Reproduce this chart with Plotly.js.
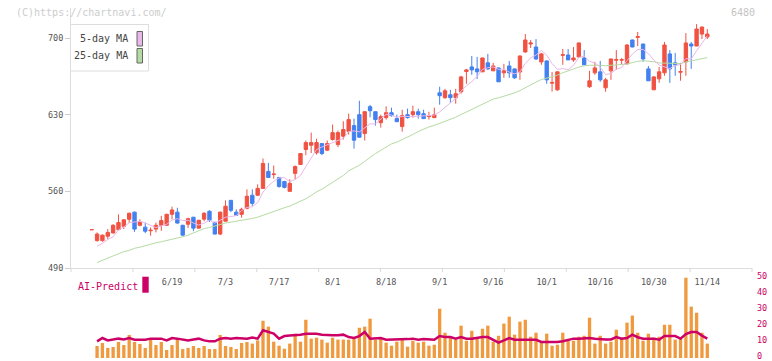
<!DOCTYPE html>
<html><head><meta charset="utf-8">
<script src="https://cdn.plot.ly/plotly-3.0.1.min.js"></script>
<style>html,body{margin:0;padding:0;background:#fff}#chart{width:772px;height:361px}</style>
</head><body><div id="chart"></div>
<script>
// ---- data ----
const openP  = [525,515,515,519,522,525,528,534.5,541,529,527.3,524,525.5,529,529,539,541,529,530,536.4,526.4,534.6,541.8,531.8,521,532.7,551.8,541,539,544.5,556.4,556.4,562.7,578.2,575.3,572.7,569,560,576.4,584.5,598.2,602.1,595.2,603.6,597.6,607.3,602.7,610.3,614.8,620,630,612.7,637.3,632.7,622.7,627.3,631.8,626.4,619.1,630,630,632.7,630.9,628.2,627.3,650,645.5,648.2,645.5,650.9,669.4,673.6,671.8,669.1,677.3,670,672.7,668.2,674.5,671.8,669,687.3,694.5,691.8,678.2,679.1,658.8,652.7,684.2,684.5,680,682.7,681.8,655.5,668.2,669.1,654.5,670,679.7,679.8,676.4,698.2,700.6,694.5,671.8,652.7,662.7,668.2,685.5,677.3,668.8,678.2,694.5,692.7,703.6,700.9];
const highP  = [525,522.5,520.5,525.5,530,539,534.5,540.5,541.5,534.5,531.5,527,531.5,537.6,539.5,546,545,529.5,536,536.5,534,541,542.7,532,541.5,551.8,552,543.6,545,561.8,561.8,566.4,590,586,583.6,573,569.5,571,583.6,595,606.4,613.6,608,604,606.4,621,615.5,624,631,626.4,642.7,633,639,633,630,637.6,636.4,630,634.5,635.5,638.2,635.5,634.5,632.7,636.4,655.5,653.6,652.7,653.6,665.5,671.8,683.6,682.7,682,685.5,677.3,673,676.4,679.1,672,684,703.6,698.2,699,686.4,679.5,669,669.5,690,690,691.8,695.8,689,670,678.2,679.1,663.6,681,689,681.8,694.5,698.5,705.5,694.8,674.5,665,673.6,696.4,689,686.4,677.3,704.5,696.4,712.7,710.5,708.2];
const lowP   = [525,514,514,516.5,521.5,524.5,525.5,531,523,528,521.8,519.5,522.5,524,528.5,534.5,530.5,519.5,526.5,523.6,526,532.7,532,520.5,520,532.5,541,538,536,543.6,546.7,556,562.5,572.5,571.5,563.3,562.7,560,571,584,593,595,593.6,593,596.7,606.4,600.3,607.3,611.8,599,609,606.4,627.6,620,618.2,625.5,628.2,623.5,614.5,626.4,627.3,626.4,626.4,625.5,627,639.1,644.5,641,640,649.1,658.2,666.4,662.7,669,670.9,670,660,663.6,663.6,662.7,661.8,686.4,690.9,680,675.5,658.2,651,651.8,675.5,680,678.2,682.5,675,654.5,666.4,660,650.9,661.8,671,675.5,676,691.5,692.7,678.2,660.9,652.5,659.1,665.5,659,665.5,661,665.5,671.8,692.5,699.1,699.1];
const closeP = [525,521,520,522.5,529,531.5,534,540,525.5,532,523.6,524.5,529,533.3,539,543,531,520,535,526.4,533.6,540,533.6,521,541,546.4,542.7,538.2,543.6,555.5,549,562.7,585.5,572.7,575.8,564.5,563.6,567.3,582.7,594.5,604.5,604.5,604.5,594.5,603.6,613.6,613.6,616.4,625.5,606.7,609.4,632.7,633.6,625.5,628.2,631.8,629.1,623.6,629.1,627.3,632.7,630,626.4,629.1,630,647.3,651.8,645.5,649.1,664.5,670.9,670.9,669.1,681.8,671.8,674.5,660,670,668.2,663.6,683.6,698.2,695.5,680.9,685.5,661.8,659.4,669.1,684.8,680,681.8,695.5,675.5,660.9,672.7,661.8,661.8,680.9,680.3,680.3,693.6,691.8,701.2,680.9,660.9,664.5,669.1,693.6,671.8,675.5,669.3,695.5,692.7,708.2,710,703.6];
const volume = [0,7.5,9.4,6.3,6.9,10,8.1,14.4,10,8.8,6.3,11.3,8.1,10,5,8.1,12.5,5.6,6.3,7.5,6.3,7.5,5.6,5.6,14.4,7.5,6.9,5.6,9.4,10,9,11,23.3,19.6,10.2,7.7,5.8,9,15.2,10.2,23.9,12.1,12.7,11.5,9.6,12.7,11.5,11.5,11.5,12.1,18.9,19.6,24.6,11.5,12.1,9.6,7.7,10.2,11.5,7.1,10.8,9.6,10.2,7.7,8.3,30.8,15.8,13.3,11.5,20.2,10.8,17,12.1,18.3,20.2,10.2,13.9,21.5,25.8,14.6,22.7,23.9,13.3,15.8,9.6,15.2,7.7,8.3,15.8,10.8,10.8,13.3,13.9,25.2,9,13.9,9,10.2,17.7,12.7,22.1,26.5,15.8,10.8,15.2,12.7,13.3,20.8,20.8,11.5,12.7,50.2,32.1,28.3,15.8,9];
const aiPredict = [null,10.4,12.5,11,11.4,12.1,11.6,12.5,11.4,11.4,11.4,12.1,12.1,12.1,11,12.5,12.1,11.6,11,11.6,12.1,11,10.4,10.4,12.1,12.5,12.1,12.5,12.3,12.1,12.8,12.1,17.3,16.2,15.2,12.1,13.7,14,14.2,14.6,15.2,15.2,15.2,14.6,14.2,14.2,14.2,14.6,13.1,12.5,13.7,16.2,12.1,12.5,12.5,11.4,11.4,11.4,11.4,11.8,12.1,11.4,11.8,11.4,11.4,13.7,13.1,13.1,12.1,13.1,12.1,12.1,12.7,13.1,13.1,11.4,9.6,11,12.5,11.4,11.4,11.4,11.4,11.4,10,10,10,10,10.5,11.5,12.1,12.1,12.1,12.5,12,11.6,11.6,11.6,13.1,12,12.5,14.6,13,12.1,12.1,12.1,11.4,13.7,13.7,13.7,12.1,15,16.2,16.2,14,12.1];
// moving averages before enough visible closes exist
const ma5Lead  = [null,510,512.5,516,518.5];
const ma25Lead = [null,495,497,499,501,503,505,506,508,509,510.5,512,513,514,515,516,517,518.5,520,522,524,526,527,528.5,529.5];
const tickIdx    = [15,25,35,45,55,65,75,85,95,105,115];
const tickLabels = ['6/19','7/3','7/17','8/1','8/18','9/1','9/16','10/1','10/16','10/30','11/14'];
const priceTicks = [490,560,630,700];
const volTicks   = [0,10,20,30,40,50];

// ---- derived ----
const xi = closeP.map((_, i) => i);
function movAvg(n, lead) {
  return closeP.map((_, i) => {
    if (i < lead.length) return lead[i];
    let s = 0; for (let k = i - n + 1; k <= i; k++) s += closeP[k];
    return s / n;
  });
}
const ma5 = movAvg(5, ma5Lead);
const ma25 = movAvg(25, ma25Lead);

// ---- geometry helpers (pixel -> paper) ----
const L = 71, R = 752, T = 8, B = 358;
const px = x => (x - L) / (R - L);
const py = y => 1 - (y - T) / (B - T);
const mono = 'DejaVu Sans Mono, Liberation Mono, monospace';

const traces = [
  {type:'scatter', mode:'lines', x:xi, y:ma25, line:{color:'#b5dba3', width:1}, hoverinfo:'skip', xaxis:'x', yaxis:'y'},
  {type:'scatter', mode:'lines', x:xi, y:ma5, line:{color:'#e9b8ea', width:1}, hoverinfo:'skip', xaxis:'x', yaxis:'y'},
  {type:'candlestick', x:xi, open:openP, high:highP, low:lowP, close:closeP, xaxis:'x', yaxis:'y',
   increasing:{line:{color:'#f05242', width:1}, fillcolor:'#f05242'},
   decreasing:{line:{color:'#4281f0', width:1}, fillcolor:'#4281f0'}, whiskerwidth:0},
  {type:'bar', x:xi, y:volume, marker:{color:'#f09a40'}, width:0.62, xaxis:'x2', yaxis:'y2', hoverinfo:'skip'},
  {type:'scatter', mode:'lines', x:xi, y:aiPredict, line:{color:'#cc0066', width:2.5}, xaxis:'x2', yaxis:'y2', hoverinfo:'skip'}
];

const xr = [-3.87, 123.35];
const shapes = [];
for (let k = 0; k <= 11; k++) {
  shapes.push({type:'line', xref:'paper', yref:'paper', x0:k/11, x1:k/11, y0:py(268), y1:py(272), line:{color:'#d8d8d8', width:1}});
}
// legend box
shapes.push({type:'rect', xref:'paper', yref:'paper', x0:px(70.5), x1:px(148.5), y0:py(24.5), y1:py(71), line:{color:'#dddddd', width:1}, fillcolor:'#ffffff', layer:'above'});
shapes.push({type:'rect', xref:'paper', yref:'paper', x0:px(137), x1:px(142.5), y0:py(31.5), y1:py(46), line:{color:'#666666', width:1}, fillcolor:'#e9b8ea', layer:'above'});
shapes.push({type:'rect', xref:'paper', yref:'paper', x0:px(137), x1:px(142.5), y0:py(48.5), y1:py(63), line:{color:'#666666', width:1}, fillcolor:'#b5dba3', layer:'above'});
// AI-Predict marker
shapes.push({type:'rect', xref:'paper', yref:'paper', x0:px(142.3), x1:px(148.7), y0:py(276.7), y1:py(292.7), line:{width:0}, fillcolor:'#cc0066'});

const annotations = [
  {text:'(C)https://chartnavi.com/', xref:'paper', yref:'paper', x:px(14), y:py(12), xanchor:'left', yanchor:'middle', showarrow:false, font:{family:mono, size:10, color:'#cccccc'}},
  {text:'6480', xref:'paper', yref:'paper', x:px(757), y:py(12), xanchor:'right', yanchor:'middle', showarrow:false, font:{family:mono, size:10, color:'#c4c4c4'}},
  {text:'5-day MA', xref:'paper', yref:'paper', x:px(130), y:py(39), xanchor:'right', yanchor:'middle', showarrow:false, font:{family:mono, size:10, color:'#444444'}},
  {text:'25-day MA', xref:'paper', yref:'paper', x:px(130), y:py(56), xanchor:'right', yanchor:'middle', showarrow:false, font:{family:mono, size:10, color:'#444444'}},
  {text:'AI-Predict', xref:'paper', yref:'paper', x:px(75.5), y:py(286), xanchor:'left', yanchor:'middle', showarrow:false, font:{family:mono, size:10, color:'#cc0066'}}
];

const layout = {
  width:772, height:361, paper_bgcolor:'#ffffff', plot_bgcolor:'#ffffff',
  margin:{l:L, r:772-R, t:T, b:361-B, pad:0},
  showlegend:false, dragmode:false, boxgap:0.1,
  xaxis:{domain:[0,1], range:xr, anchor:'y', rangeslider:{visible:false}, showgrid:false, zeroline:false,
    showline:true, linecolor:'#dddddd', linewidth:1, ticks:'', tickvals:tickIdx, ticktext:tickLabels,
    tickfont:{family:mono, size:8.5, color:'#555555'}, ticklabelstandoff:6},
  yaxis:{domain:[py(268), 1], range:[490, 490 + (268 - T) / 1.0952], anchor:'x', showgrid:false, zeroline:false,
    showline:true, linecolor:'#dddddd', linewidth:1, ticks:'outside', ticklen:5, tickcolor:'#cccccc',
    tickvals:priceTicks, tickfont:{family:mono, size:8.5, color:'#555555'}},
  xaxis2:{domain:[0,1], range:xr, anchor:'y2', showgrid:false, zeroline:false, showline:false, showticklabels:false, ticks:''},
  yaxis2:{domain:[0, py(275)], range:[0, (358 - 275) / 1.6], anchor:'x2', side:'right', showgrid:false, zeroline:false,
    showline:false, ticks:'', tickvals:volTicks, tickfont:{family:mono, size:8.5, color:'#cc0066'}, ticklabelstandoff:4,
    ticklabeloverflow:'allow', ticklabelshift:-2},
  shapes:shapes, annotations:annotations
};
Plotly.newPlot('chart', traces, layout, {staticPlot:true, displayModeBar:false});
</script></body></html>
